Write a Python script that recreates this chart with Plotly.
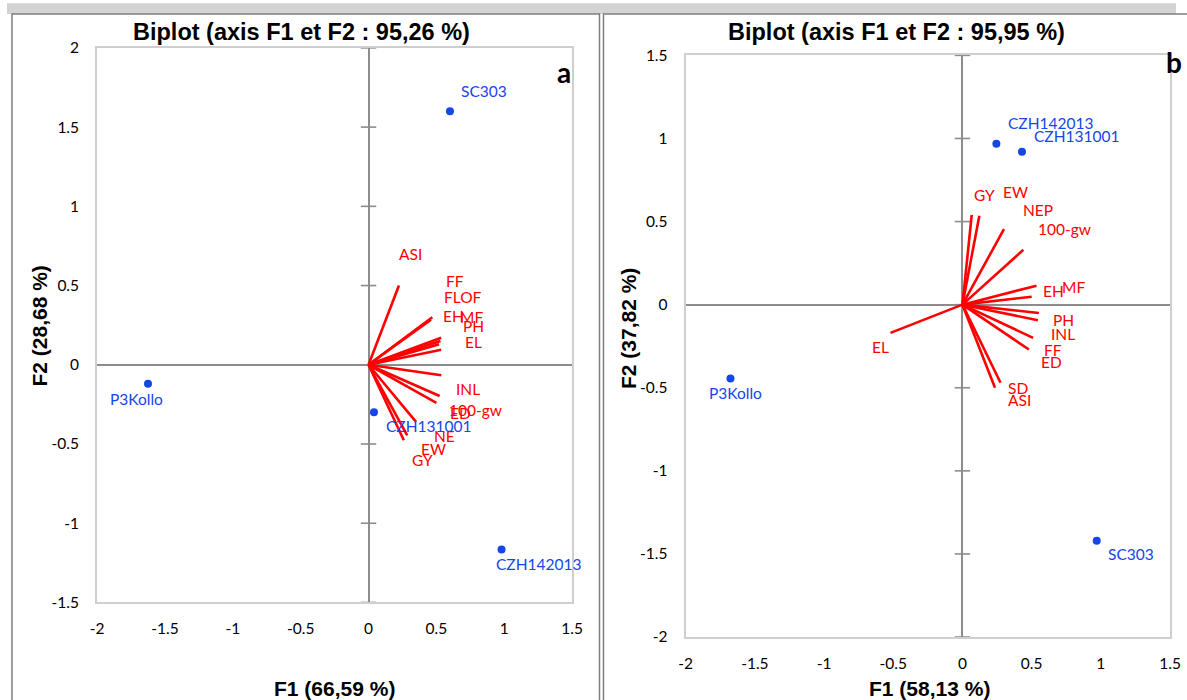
import plotly.graph_objects as go

# ---------------- data ----------------
# Panel a
obs_a = ["SC303", "P3Kollo", "CZH131001", "CZH142013"]
obs_a_f1 = [0.60, -1.625, 0.04, 0.98]
obs_a_f2 = [1.60, -0.12, -0.30, -1.165]

var_a = ["ASI", "FF", "FLOF", "EH", "MF", "PH", "EL", "INL", "100-gw", "ED", "NE", "EW", "GY"]
var_a_f1 = [0.224, 0.47, 0.46, 0.535, 0.53, 0.52, 0.535, 0.536, 0.524, 0.50, 0.35, 0.285, 0.26]
var_a_f2 = [0.50, 0.30, 0.285, 0.17, 0.15, 0.13, 0.095, -0.066, -0.197, -0.24, -0.36, -0.445, -0.476]

# Panel b
obs_b = ["CZH142013", "CZH131001", "P3Kollo", "SC303"]
obs_b_f1 = [0.245, 0.43, -1.676, 0.97]
obs_b_f2 = [0.968, 0.92, -0.445, -1.42]

var_b = ["GY", "EW", "NEP", "100-gw", "EH", "MF", "PH", "INL", "FF", "ED", "SD", "ASI", "EL"]
var_b_f1 = [0.067, 0.122, 0.30, 0.44, 0.535, 0.50, 0.552, 0.545, 0.51, 0.48, 0.275, 0.235, -0.52]
var_b_f2 = [0.54, 0.535, 0.455, 0.33, 0.114, 0.048, -0.05, -0.094, -0.20, -0.27, -0.47, -0.50, -0.17]

titles = ["Biplot (axis F1 et F2 : 95,26 %)", "Biplot (axis F1 et F2 : 95,95 %)"]
xtitles = ["F1 (66,59 %)", "F1 (58,13 %)"]
ytitles = ["F2 (28,68 %)", "F2 (37,82 %)"]
panel_letters = ["a", "b"]

x_ticks = [-2, -1.5, -1, -0.5, 0, 0.5, 1, 1.5]
x_tick_text = ["-2", "-1.5", "-1", "-0.5", "0", "0.5", "1", "1.5"]
ya_ticks = [-1.5, -1, -0.5, 0, 0.5, 1, 1.5, 2]
ya_tick_text = ["-1.5", "-1", "-0.5", "0", "0.5", "1", "1.5", "2"]
yb_ticks = [-2, -1.5, -1, -0.5, 0, 0.5, 1, 1.5]
yb_tick_text = ["-2", "-1.5", "-1", "-0.5", "0", "0.5", "1", "1.5"]

# label pixel offsets (style)
var_a_shift = [(11, 31), (22, 35), (32, 22), (12, 21), (31, 23), (34, 18), (32, 8),
               (26, -13), (35, -14), (24, -10), (28, -14), (26, -13), (18, -19)]
obs_a_shift = [(34, 20), (-11, -15), (54, -13), (37, -14)]
var_b_shift = [(13, 19), (36, 23), (34, 19), (41, 20), (17, -5), (41, 9), (24, -7),
               (25, -13), (20, -12), (22, -12), (17, -5), (24, -12), (-10, -14)]
obs_b_shift = [(54, 20), (54, 15), (5, -14), (34, -13)]

W, H = 1187, 700
# the captured page comes out slightly shrunk and inset; place items so they land
# at the intended screen positions
SX, BX = 0.989, 4.0
SY, BY = 0.975, 8.1

RED = "#ff0000"
BLUE = "#1546e8"
AXG = "#8c8c8c"
BORDER = "#cfcfcf"
LABEL_FAMILY = "Lato, Carlito, sans-serif"
TICKFONT = dict(family=LABEL_FAMILY, size=15.5, color="#000000")


def fx(t):
    return ((t - BX) / SX) / W


def fy(t):
    return 1 - ((t - BY) / SY) / H


fig = go.Figure()

panels = [
    dict(xa="x", ya="y", obs=obs_a, of1=obs_a_f1, of2=obs_a_f2, var=var_a, vf1=var_a_f1, vf2=var_a_f2,
         vs=var_a_shift, os=obs_a_shift, yticks=ya_ticks, ytext=ya_tick_text,
         px=(94.5, 571.5), py=(46, 601), yr=(-1.5, 2)),
    dict(xa="x2", ya="y2", obs=obs_b, of1=obs_b_f1, of2=obs_b_f2, var=var_b, vf1=var_b_f1, vf2=var_b_f2,
         vs=var_b_shift, os=obs_b_shift, yticks=yb_ticks, ytext=yb_tick_text,
         px=(685.5, 1172), py=(53.5, 635.6), yr=(-2, 1.5)),
]

annotations = []
for i, p in enumerate(panels):
    vx, vy = [], []
    for a, b in zip(p["vf1"], p["vf2"]):
        vx += [0, a, None]
        vy += [0, b, None]
    fig.add_trace(go.Scatter(x=[0] * len(p["yticks"]), y=p["yticks"], mode="markers",
                             marker=dict(symbol="line-ew", size=11, line=dict(color=AXG, width=1.6)),
                             xaxis=p["xa"], yaxis=p["ya"], hoverinfo="skip", showlegend=False,
                             cliponaxis=False))
    fig.add_trace(go.Scatter(x=vx, y=vy, mode="lines", line=dict(color=RED, width=2.6),
                             xaxis=p["xa"], yaxis=p["ya"], showlegend=False, hoverinfo="skip"))
    fig.add_trace(go.Scatter(x=p["of1"], y=p["of2"], mode="markers",
                             marker=dict(color=BLUE, size=8),
                             xaxis=p["xa"], yaxis=p["ya"], showlegend=False))
    for name, a, b, (dx, dy) in zip(p["var"], p["vf1"], p["vf2"], p["vs"]):
        annotations.append(dict(x=a, y=b, xref=p["xa"], yref=p["ya"], text=name, showarrow=False,
                                xshift=dx / SX, yshift=dy / SY, xanchor="center", yanchor="middle",
                                font=dict(family=LABEL_FAMILY, size=15.5, color=RED)))
    for name, a, b, (dx, dy) in zip(p["obs"], p["of1"], p["of2"], p["os"]):
        annotations.append(dict(x=a, y=b, xref=p["xa"], yref=p["ya"], text=name, showarrow=False,
                                xshift=dx / SX, yshift=dy / SY, xanchor="center", yanchor="middle",
                                font=dict(family=LABEL_FAMILY, size=15.5, color=BLUE)))

axis_common = dict(showgrid=False, zeroline=True, zerolinecolor=AXG, zerolinewidth=2,
                   showline=True, linecolor=BORDER, linewidth=2, mirror=True,
                   ticks="", tickfont=TICKFONT, fixedrange=True)

layout = dict(width=W, height=H, margin=dict(l=0, r=0, t=0, b=0),
              paper_bgcolor="white", plot_bgcolor="white", showlegend=False)

for i, p in enumerate(panels):
    sfx = "" if i == 0 else "2"
    layout["xaxis" + sfx] = dict(domain=[fx(p["px"][0]), fx(p["px"][1])], range=[-2, 1.5],
                                 tickvals=x_ticks, ticktext=x_tick_text, anchor="y" + sfx,
                                 ticklabelstandoff=11, **axis_common)
    layout["yaxis" + sfx] = dict(domain=[fy(p["py"][1]), fy(p["py"][0])], range=list(p["yr"]),
                                 tickvals=p["yticks"], ticktext=p["ytext"], anchor="x" + sfx,
                                 ticklabelstandoff=13, **axis_common)

fig.update_layout(**layout)

title_font = dict(family="Liberation Sans, Arial, sans-serif", size=23.5, color="#000000")
axt_font = dict(family="Liberation Sans, Arial, sans-serif", size=21, color="#000000")
title_pos = [(300, 30), (897, 30)]
xt_pos = [(333, 687), (930, 687)]
yt_pos = [(37, 324), (628, 327)]
letter_pos = [(563, 70), (1176, 60)]
for i in range(2):
    common = dict(xref="paper", yref="paper", showarrow=False, xanchor="center", yanchor="middle")
    annotations.append(dict(x=fx(title_pos[i][0]), y=fy(title_pos[i][1]),
                            text="<b>" + titles[i] + "</b>", font=title_font, **common))
    annotations.append(dict(x=fx(xt_pos[i][0]), y=fy(xt_pos[i][1]),
                            text="<b>" + xtitles[i] + "</b>", font=axt_font, **common))
    annotations.append(dict(x=fx(yt_pos[i][0]), y=fy(yt_pos[i][1]),
                            text="<b>" + ytitles[i] + "</b>", font=axt_font, textangle=-90, **common))
    annotations.append(dict(x=fx(letter_pos[i][0]), y=fy(letter_pos[i][1]),
                            text="<b>" + panel_letters[i] + "</b>",
                            font=dict(family=LABEL_FAMILY, size=28, color="#000000"),
                            **common))

shapes = [
    dict(type="rect", xref="paper", yref="paper", x0=0, x1=1, y0=fy(12), y1=1.01,
         fillcolor="#d3d3d3", line=dict(width=0), layer="below"),
    dict(type="rect", xref="paper", yref="paper", x0=fx(9), x1=fx(599), y0=-0.02, y1=fy(12),
         line=dict(color="#7f7f7f", width=1.5), layer="below"),
    dict(type="rect", xref="paper", yref="paper", x0=fx(603), x1=1.02, y0=-0.02, y1=fy(12),
         line=dict(color="#7f7f7f", width=1.5), layer="below"),
]
fig.update_layout(annotations=annotations, shapes=shapes)

fig.write_html("out.html", config={"displayModeBar": False},
               post_script="document.body.style.margin='0';document.body.style.overflow='hidden';")
